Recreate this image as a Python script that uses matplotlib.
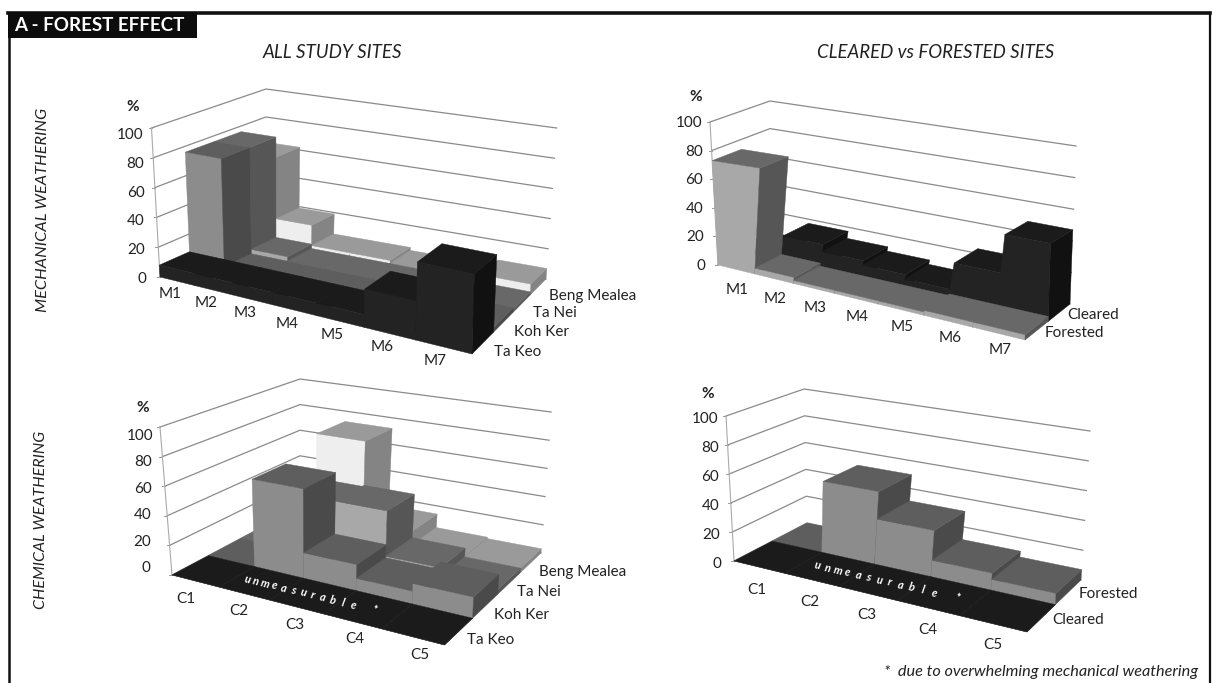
import numpy as np
import matplotlib
matplotlib.use("Agg")
import matplotlib.pyplot as plt
from matplotlib.patches import Polygon, Rectangle

plt.rcParams['font.family'] = ['Lato', 'DejaVu Sans']

# categories
m_labels = ["M1", "M2", "M3", "M4", "M5", "M6", "M7"]
c_labels = ["C1", "C2", "C3", "C4", "C5"]
z_ticks = [0, 20, 40, 60, 80, 100]
note_text = "unmeasurable *"

# mechanical weathering, all sites (%)
mech_ta_keo = [8, 8, 8, 8, 8, 24, 48]
mech_koh_ker = [76, 3, 3, 3, 3, 3, 3]
mech_ta_nei = [76, 6, 3, 3, 3, 2, 2]
mech_beng = [62, 19, 5, 5, 3, 5, 7]

# mechanical weathering, cleared vs forested (%)
mech_forested = [73, 4, 2, 2, 2, 3, 3]
mech_cleared = [5, 17, 12, 9, 6, 23, 47]

# chemical weathering, all sites (%)
chem_ta_keo = [0, 0, 0, 0, 0]
chem_koh_ker = [0, 60, 17, 8, 13]
chem_ta_nei = [0, 39, 40, 9, 3]
chem_beng = [0, 72, 14, 4, 3]

# chemical weathering, cleared vs forested (%)
chem_cleared = [0, 0, 0, 0, 0]
chem_forested = [0, 50, 31, 11, 7]

# front, top, side greys
BLACK = ("#232323", "#1b1b1b", "#111111")
KOH = ("#8c8c8c", "#5e5e5e", "#4a4a4a")
NEI = ("#a8a8a8", "#686868", "#565656")
BENG = ("#eeeeee", "#9a9a9a", "#848484")


def homography(fl, fr, bl, br):
    # maps unit square (u along categories, v into depth) to four pixel corners
    src = [(0, 0), (1, 0), (0, 1), (1, 1)]
    dst = [fl, fr, bl, br]
    a, b = [], []
    for (u, v), (x, y) in zip(src, dst):
        a.append([u, v, 1, 0, 0, 0, -u * x, -v * x])
        a.append([0, 0, 0, u, v, 1, -u * y, -v * y])
        b += [x, y]
    h = np.linalg.solve(np.array(a, float), np.array(b, float))
    return np.append(h, 1).reshape(3, 3)


def apply_h(h, u, v):
    p = h @ np.array([u, v, 1.0])
    return p[:2] / p[2]


fig = plt.figure(figsize=(12.12, 6.83), dpi=100)
ax = fig.add_axes([0, 0, 1, 1])
ax.set_xlim(0, 1212)
ax.set_ylim(683, 0)
ax.axis("off")


def chart(floor, top, rows, colors, cats, row_names, pct_xy, name_off, cat_off, tick_off):
    hf = homography(*floor)
    ht = homography(*top)
    nc, nr = len(cats), len(rows)

    def pt(col, row, z):
        u, v = col / nc, row / nr
        return apply_h(hf, u, v) + (apply_h(ht, u, v) - apply_h(hf, u, v)) * z / 100

    # walls
    for z in z_ticks:
        line = np.array([pt(0, 0, z), pt(0, nr, z), pt(nc, nr, z)])
        ax.plot(line[:, 0], line[:, 1], color="#8a8a8a", lw=0.9, zorder=1)
        p = pt(0, 0, z)
        ax.plot([p[0] - 3, p[0]], [p[1], p[1]], color="#999999", lw=0.7, zorder=1)
        t = z / 100
        dx = tick_off[0][0] + (tick_off[1][0] - tick_off[0][0]) * t
        dy = tick_off[0][1] + (tick_off[1][1] - tick_off[0][1]) * t
        ax.text(p[0] - 8 + dx, p[1] + 3 + dy, str(z), ha="right", va="center",
                fontsize=11, color="#222222")
    axis = np.array([pt(0, 0, 0), pt(0, 0, 100)])
    ax.plot(axis[:, 0], axis[:, 1], color="#aaaaaa", lw=0.8, zorder=1)
    ax.text(pct_xy[0], pct_xy[1], "%", ha="center", va="center", fontsize=11,
            fontweight="bold", color="#222222")

    # bars, back row first and left to right
    zo = 2
    for j in range(nr - 1, -1, -1):
        for i in range(nc):
            z = rows[j][i]
            c_f, c_t, c_s = colors[j]
            faces = [
                ([(i, j, 0), (i + 1, j, 0), (i + 1, j, z), (i, j, z)], c_f),
                ([(i + 1, j, 0), (i + 1, j + 1, 0), (i + 1, j + 1, z), (i + 1, j, z)], c_s),
                ([(i, j, z), (i + 1, j, z), (i + 1, j + 1, z), (i, j + 1, z)], c_t),
            ]
            for verts, col in faces:
                ax.add_patch(Polygon([pt(*q) for q in verts], closed=True, facecolor=col,
                                     edgecolor=col, lw=0.3, zorder=zo))
            zo += 1

    # category labels under the front edge
    for i, lab in enumerate(cats):
        p = pt(i + 0.5, 0, 0)
        t = i / (nc - 1)
        dx = cat_off[0][0] + (cat_off[1][0] - cat_off[0][0]) * t
        dy = cat_off[0][1] + (cat_off[1][1] - cat_off[0][1]) * t
        ax.text(p[0] - 9 + dx, p[1] + 9 + dy, lab, ha="center", va="center",
                fontsize=11, color="#222222")
    # row labels down the right edge
    for j, lab in enumerate(row_names):
        p = pt(nc, j + 0.5, 0)
        ax.text(p[0] + name_off[0], p[1] + name_off[1], lab, ha="left", va="center",
                fontsize=11, color="#222222")
    return pt


def lay_note(pt, start, stop, angle):
    # spreads the note along the front row, one letter at a time
    for k, ch in enumerate(note_text):
        col = start + (stop - start) * k / (len(note_text) - 1)
        p = pt(col, 0.5, 0)
        ax.text(p[0], p[1], ch, color="white", fontsize=8, style="italic", fontweight="bold",
                rotation=-angle, ha="center", va="center", rotation_mode="anchor", zorder=200)


chart([(160, 277), (472, 354), (266, 229), (546, 279)],
      [(151.5, 128), (477, 188), (266, 89), (556.6, 128)],
      [mech_ta_keo, mech_koh_ker, mech_ta_nei, mech_beng],
      [BLACK, KOH, NEI, BENG], m_labels,
      ["Ta Keo", "Koh Ker", "Ta Nei", "Beng Mealea"], (133, 107),
      (11, 9.5), ((2, 4), (1, 5)), ((-6, -1), (0, 4)))

chart([(718, 265), (1025, 340), (770, 239), (1070, 304)],
      [(710, 122), (1030, 165), (770, 101), (1076, 146)],
      [mech_forested, mech_cleared],
      [NEI, BLACK], m_labels, ["Forested", "Cleared"], (696, 97),
      (8, 2), ((10, 12), (11, 7)), ((-5, -2), (0, -2)))

pt_c = chart([(172, 575), (444.5, 645), (300, 507), (541, 553)],
             [(160, 427), (450, 475), (300, 379), (551, 412)],
             [chem_ta_keo, chem_koh_ker, chem_ta_nei, chem_beng],
             [BLACK, KOH, NEI, BENG], c_labels,
             ["Ta Keo", "Koh Ker", "Ta Nei", "Beng Mealea"], (143, 408),
             (8, 9), ((0, 9), (16, 9)), ((-14, -10), (1, 6)))

pt_d = chart([(734, 561), (1027, 632), (807, 523), (1081, 580)],
             [(726, 416), (1032, 462), (804, 389), (1090, 431)],
             [chem_cleared, chem_forested],
             [BLACK, KOH], c_labels, ["Cleared", "Forested"], (708, 394),
             (10.5, 2.5), ((6.5, 14), (9, 12)), ((-5, 0), (0, 0)))

lay_note(pt_c, 1.2, 3.6, 15)
lay_note(pt_d, 1.26, 3.7, 13.5)

# frame and header
ax.plot([9, 9], [683, 13], color="#111111", lw=1.8, zorder=300)
ax.plot([8, 1210], [13, 13], color="#111111", lw=2.6, zorder=300)
ax.plot([1210, 1210], [13, 683], color="#111111", lw=1.6, zorder=300)
ax.add_patch(Rectangle((8, 12), 189, 25.5, facecolor="#0c0c0c", edgecolor="none", zorder=301))
ax.text(14, 25.5, "A - FOREST EFFECT", color="white", fontsize=13.5, fontweight="bold",
        ha="left", va="center", zorder=302)

ax.text(332, 52, "ALL STUDY SITES", style="italic", fontsize=13.5, ha="center", va="center", color="#222222")
ax.text(936, 52, "CLEARED vs FORESTED SITES", style="italic", fontsize=13.4, ha="center", va="center", color="#222222")
ax.text(43, 210, "MECHANICAL WEATHERING", style="italic", fontsize=11.8, rotation=90,
        ha="center", va="center", color="#222222")
ax.text(41, 520, "CHEMICAL WEATHERING", style="italic", fontsize=11.5, rotation=90,
        ha="center", va="center", color="#222222")
ax.text(1198, 672, "*  due to overwhelming mechanical weathering", style="italic", fontsize=11.7,
        ha="right", va="center", color="#222222")

fig.savefig("out.png", dpi=100)
